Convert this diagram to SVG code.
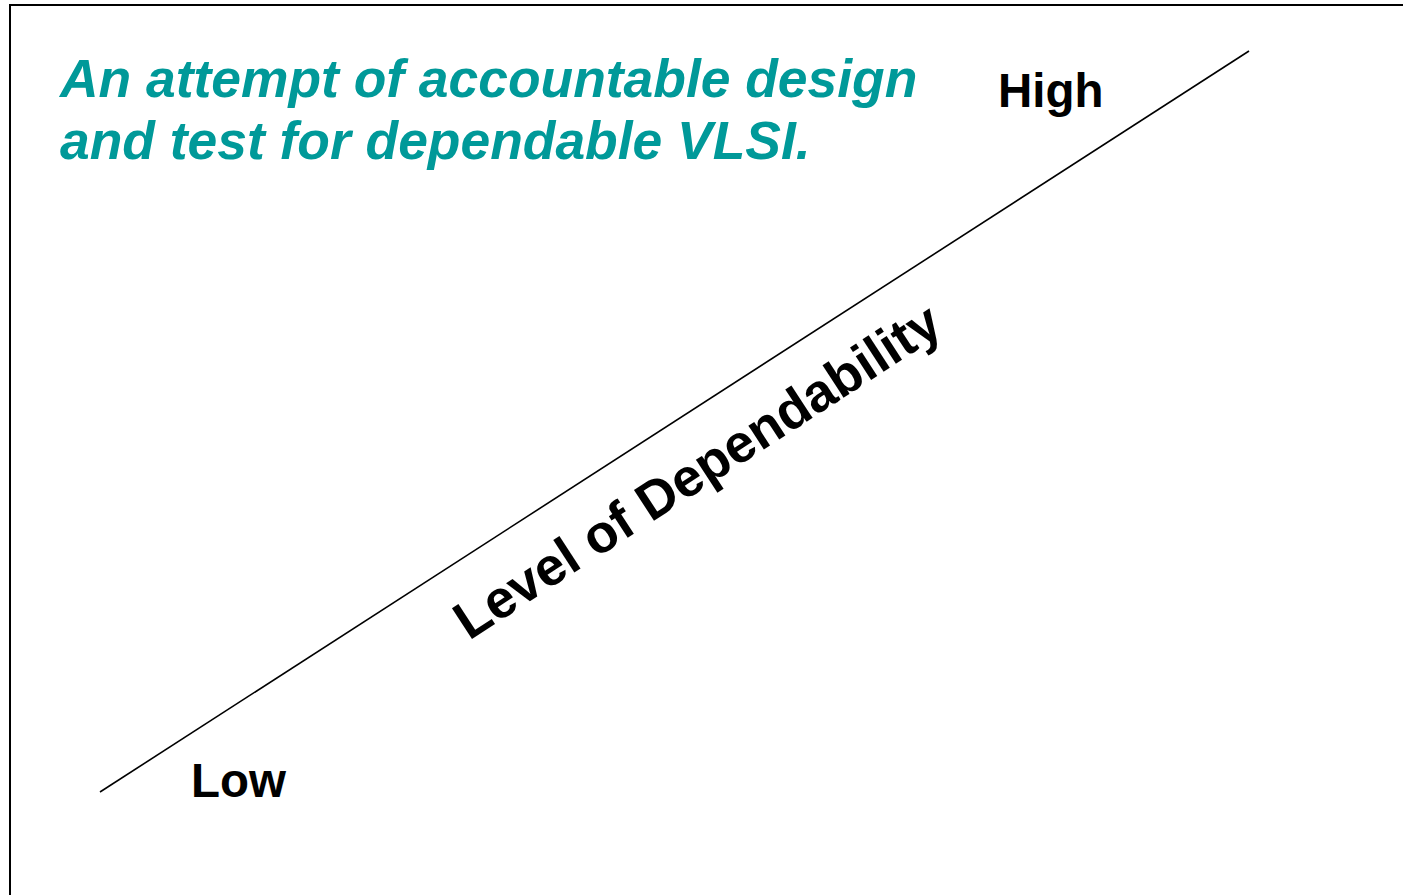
<svg xmlns="http://www.w3.org/2000/svg" width="1403" height="895" viewBox="0 0 1403 895">
  <style>
    .title { font-family: "Liberation Sans", Arial, sans-serif; font-weight: bold; font-style: italic; font-size: 53.4px; fill: #009999; }
    .lbl { font-family: "Liberation Sans", Arial, sans-serif; font-weight: bold; fill: #000; }
  </style>
  <rect x="0" y="0" width="1403" height="895" fill="#fff"/>
  <g id="frame">
    <rect x="10" y="5" width="1420" height="920" fill="none" stroke="#000" stroke-width="2"/>
  </g>
  <g id="title">
    <text class="title" x="60" y="97">An attempt of accountable design</text>
    <text class="title" x="60" y="159">and test for dependable VLSI.</text>
  </g>
  <g id="connectors">
    <line x1="100" y1="792" x2="1249" y2="51" stroke="#000" stroke-width="1.6"/>
  </g>
  <g id="high">
    <text class="lbl" x="998" y="107" font-size="47.5">High</text>
  </g>
  <g id="low">
    <text class="lbl" x="191" y="797" font-size="47.5">Low</text>
  </g>
  <g id="axis-label">
    <text class="lbl" font-size="53.5" transform="translate(469,641) rotate(-33)">Level of Dependability</text>
  </g>
</svg>
